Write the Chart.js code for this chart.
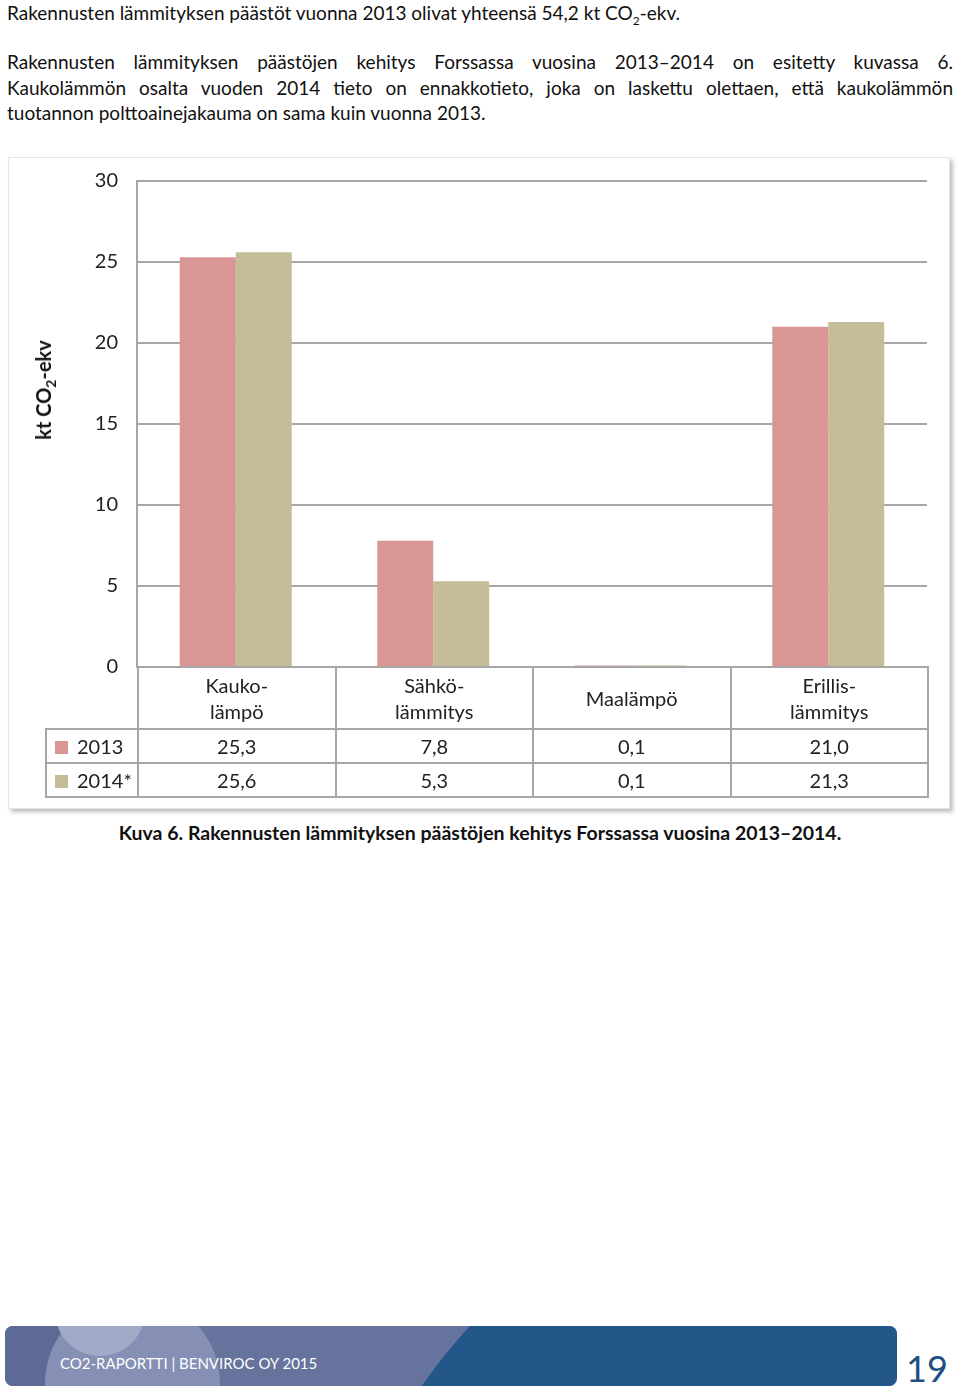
<!DOCTYPE html>
<html>
<head>
<meta charset="utf-8">
<script src="https://cdn.jsdelivr.net/npm/chart.js@4"></script>
<style>
  body { margin: 0; background: #fff; font-family: Lato, "Noto Sans", sans-serif; color: #111; }
  .page { position: relative; width: 960px; height: 1390px; overflow: hidden; }
  .txt { position: absolute; left: 7px; width: 946px; font-size: 19px; line-height: 25.5px; white-space: nowrap; }
  .just { text-align: justify; text-align-last: justify; white-space: normal; }
  .frame { position: absolute; left: 8px; top: 157px; width: 940px; height: 650px; border: 1px solid #e4e4e4;
           box-shadow: 3px 3px 4px rgba(0,0,0,0.25); background: #fff; }
  #wrap { position: absolute; left: 0; top: 150px; width: 960px; height: 548px; }
  .ytitle { position: absolute; left: 45px; top: 390px; transform: translate(-50%, -50%) rotate(-90deg);
            font-size: 20px; font-weight: bold; white-space: nowrap; color: #111; }
  table.data { position: absolute; left: 45px; top: 666px; border-collapse: collapse; table-layout: fixed;
               font-size: 20px; color: #222; }
  table.data td { border: 2px solid #a6a6a6; text-align: center; padding: 0; }
  table.data tr.head td { height: 60px; line-height: 26px; }
  table.data tr.row td { height: 32px; }
  table.data td.corner { border-top: none; border-left: none; }
  table.data td.lab { text-align: left; padding-left: 8px; white-space: nowrap; }
  .sw { display: inline-block; width: 13px; height: 13px; margin-right: 9px; vertical-align: 0px; }
  .caption { position: absolute; top: 821px; left: 0; width: 960px; text-align: center; font-weight: bold; font-size: 19.5px; }
  .footer { position: absolute; left: 5px; top: 1326px; width: 892px; height: 60px; border-radius: 8px; overflow: hidden;
            background: #65739d; }
  .c0 { position: absolute; left: 0; top: 0; width: 60px; height: 60px; background: #5c6a95; }
  .c1 { position: absolute; left: 40px; top: -30px; width: 175px; height: 175px; border-radius: 50%; background: #8690b5; }
  .c3 { position: absolute; left: 50px; top: -60px; width: 90px; height: 90px; border-radius: 50%; background: #a2aac8; }
  .c2 { position: absolute; left: 309px; top: -191px; width: 1182px; height: 1182px; border-radius: 50%; background: #235689; }
  .ftxt { position: absolute; left: 60px; top: 1354px; color: #fff; font-size: 15px; }
  .pnum { position: absolute; left: 906px; top: 1346px; color: #1d4f82; font-size: 36px; }
</style>
</head>
<body>
<div class="page">
  <div class="txt" style="top:0">Rakennusten lämmityksen päästöt vuonna 2013 olivat yhteensä 54,2 kt CO<sub style="font-size:12px">2</sub>-ekv.</div>
  <div class="txt just" style="top:49px">Rakennusten lämmityksen päästöjen kehitys Forssassa vuosina 2013–2014 on esitetty kuvassa 6.</div>
  <div class="txt just" style="top:74.5px">Kaukolämmön osalta vuoden 2014 tieto on ennakkotieto, joka on laskettu olettaen, että kaukolämmön</div>
  <div class="txt" style="top:100px">tuotannon polttoainejakauma on sama kuin vuonna 2013.</div>

  <div class="frame"></div>
  <div id="wrap"><canvas id="bars"></canvas></div>
  <div class="ytitle">kt CO<sub style="font-size:14px">2</sub>-ekv</div>

  <table class="data" id="tbl"></table>

  <div class="caption">Kuva 6. Rakennusten lämmityksen päästöjen kehitys Forssassa vuosina 2013–2014.</div>

  <div class="footer"><div class="c0"></div><div class="c1"></div><div class="c3"></div><div class="c2"></div></div>
  <div class="ftxt">CO2-RAPORTTI | BENVIROC OY 2015</div>
  <div class="pnum">19</div>
</div>

<script>
// data
var categories = [["Kauko-", "lämpö"], ["Sähkö-", "lämmitys"], ["Maalämpö"], ["Erillis-", "lämmitys"]];
var seriesNames = ["2013", "2014*"];
var values2013 = [25.3, 7.8, 0.1, 21.0];
var values2014 = [25.6, 5.3, 0.1, 21.3];
var yTicks = [0, 5, 10, 15, 20, 25, 30];
var colors = ["#d99694", "#c4bd97"];

function fmt(v) {
    return v.toFixed(1).replace(".", ",");
}

// data table under the chart
var tbl = document.getElementById("tbl");
var html = '<colgroup><col style="width:92px">';
categories.forEach(function () { html += '<col style="width:197.5px">'; });
html += '</colgroup><tr class="head"><td class="corner"></td>';
categories.forEach(function (c) { html += '<td>' + c.join("<br>") + '</td>'; });
html += '</tr>';
[values2013, values2014].forEach(function (vals, i) {
    html += '<tr class="row"><td class="lab"><span class="sw" style="background:' + colors[i] + '"></span>' + seriesNames[i] + '</td>';
    vals.forEach(function (v) { html += '<td>' + fmt(v) + '</td>'; });
    html += '</tr>';
});
tbl.innerHTML = html;

// chart
var ctx = document.getElementById("bars").getContext("2d");
new Chart(ctx, {
    type: "bar",
    data: {
        labels: categories,
        datasets: [{
            label: seriesNames[0],
            data: values2013,
            backgroundColor: colors[0]
        }, {
            label: seriesNames[1],
            data: values2014,
            backgroundColor: colors[1]
        }]
    },
    options: {
        responsive: true,
        maintainAspectRatio: false,
        animation: false,
        layout: { padding: { left: 0, right: 33, top: 31, bottom: 14 } },
        plugins: {
            legend: { display: false },
            tooltip: { enabled: false }
        },
        datasets: {
            bar: { categoryPercentage: 0.567, barPercentage: 1.0 }
        },
        scales: {
            x: { display: false },
            y: {
                min: 0,
                max: 30,
                afterFit: function (scale) { scale.width = 137; },
                afterBuildTicks: function (scale) {
                    scale.ticks = yTicks.map(function (v) { return { value: v }; });
                },
                ticks: {
                    padding: 19,
                    color: "#222",
                    font: { family: "Lato", size: 20 }
                },
                grid: { color: "#a6a6a6", lineWidth: 2, drawTicks: false },
                border: { color: "#a6a6a6", width: 2 }
            }
        }
    }
});
</script>
</body>
</html>
